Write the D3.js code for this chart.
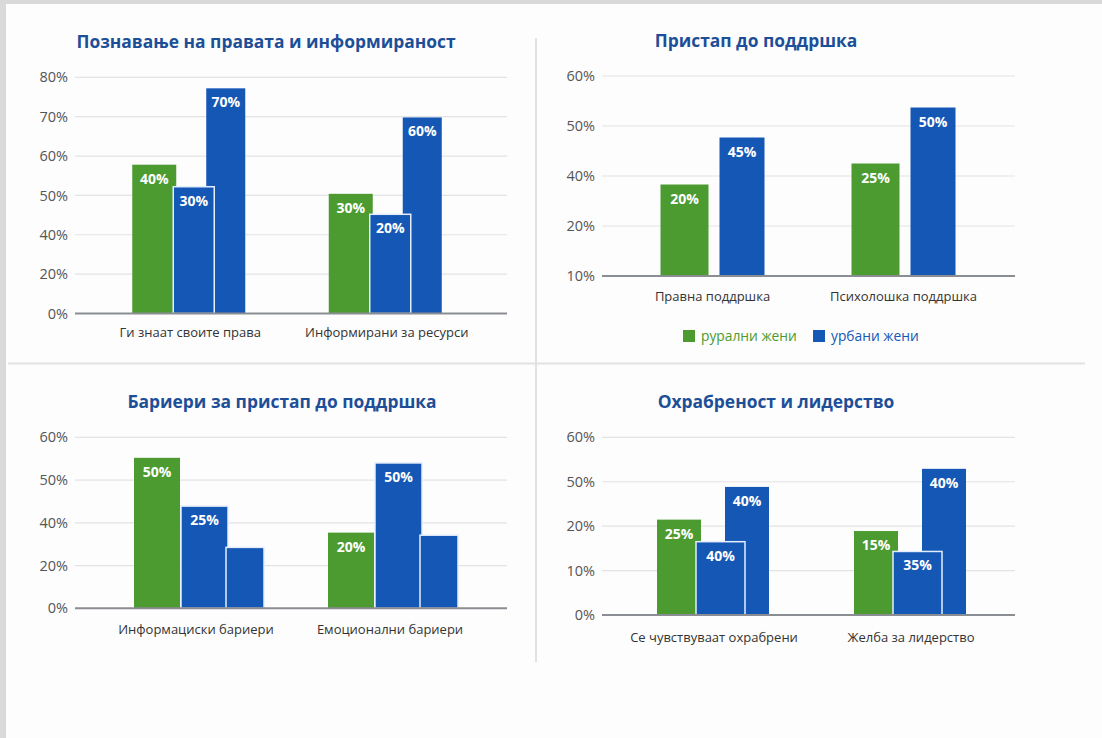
<!DOCTYPE html>
<html><head><meta charset="utf-8">
<script src="https://cdn.jsdelivr.net/npm/d3@7"></script>
<style>html,body{margin:0;padding:0;background:#fff;}svg{display:block;}</style>
</head><body>
<script>
// ---------- DATA ----------
const legendLabels = ["рурални жени", "урбани жени"];

const p1Title = "Познавање на правата и информираност";
const p1Categories = ["Ги знаат своите права", "Информирани за ресурси"];
const p1Ticks = [0, 20, 40, 50, 60, 70, 80];
const p1Rural = [57.8, 50.4];
const p1UrbanMid = [52.2, 45.2];
const p1UrbanTall = [77.2, 69.8];
const p1RuralLabels = ["40%", "30%"];
const p1UrbanMidLabels = ["30%", "20%"];
const p1UrbanTallLabels = ["70%", "60%"];

const p2Title = "Пристап до поддршка";
const p2Categories = ["Правна поддршка", "Психолошка поддршка"];
const p2Ticks = [10, 20, 40, 50, 60];
const p2Rural = [36.6, 42.5];
const p2Urban = [47.7, 53.7];
const p2RuralLabels = ["20%", "25%"];
const p2UrbanLabels = ["45%", "50%"];

const p3Title = "Бариери за пристап до поддршка";
const p3Categories = ["Информациски бариери", "Емоционални бариери"];
const p3Ticks = [0, 20, 40, 50, 60];
const p3Rural = [55.2, 35.4];
const p3UrbanMid = [43.9, 54.0];
const p3UrbanThird = [28.5, 34.2];
const p3RuralLabels = ["50%", "20%"];
const p3UrbanMidLabels = ["25%", "50%"];
const p3UrbanThirdLabels = ["", ""];

const p4Title = "Охрабреност и лидерство";
const p4Categories = ["Се чувствуваат охрабрени", "Желба за лидерство"];
const p4Ticks = [0, 10, 20, 50, 60];
const p4Rural = [24.4, 18.9];
const p4UrbanMid = [16.5, 14.3];
const p4UrbanTall = [46.5, 52.9];
const p4RuralLabels = ["25%", "15%"];
const p4UrbanMidLabels = ["40%", "35%"];
const p4UrbanTallLabels = ["40%", "40%"];

// ---------- STYLE ----------
const GREEN = "#4b9b30", BLUE = "#1557b5", TITLE = "#1d4f98";
const FONT = "'Open Sans', 'Noto Sans', sans-serif";

const W = 1102, H = 738;
const svg = d3.select("body").append("svg").attr("width", W).attr("height", H)
  .style("font-family", FONT);

svg.append("rect").attr("width", W).attr("height", H).attr("fill", "#d9d9d9");
svg.append("rect").attr("x", 6).attr("y", 4).attr("width", W - 6).attr("height", H - 4).attr("fill", "#fdfdfd");

// dividers
svg.append("line").attr("x1", 536).attr("x2", 536).attr("y1", 38).attr("y2", 662)
  .attr("stroke", "#e2e2e4").attr("stroke-width", 2);
svg.append("line").attr("x1", 8).attr("x2", 1085).attr("y1", 363.5).attr("y2", 363.5)
  .attr("stroke", "#e2e2e4").attr("stroke-width", 2);

function panel(cfg) {
  const g = svg.append("g");
  const y = d3.scaleLinear().domain(cfg.ticks)
    .range(cfg.ticks.map((d, i) => cfg.y0 - i * (cfg.y0 - cfg.yTop) / (cfg.ticks.length - 1)));
  const x = d3.scaleBand().domain(cfg.categories).range(cfg.bandRange).padding(0);

  // gridlines
  g.selectAll(".grid").data(cfg.ticks.slice(1)).join("line")
    .attr("x1", cfg.x0).attr("x2", cfg.x1)
    .attr("y1", d => y(d)).attr("y2", d => y(d))
    .attr("stroke", "#e3e3e6").attr("stroke-width", 1.2);

  // y axis labels
  const yAxis = d3.axisLeft(y).tickValues(cfg.ticks).tickFormat(d => d + "%").tickSize(0).tickPadding(0);
  const ya = g.append("g").attr("transform", `translate(${cfg.x0 - 7},0)`).call(yAxis);
  ya.select(".domain").remove();
  ya.selectAll("text").attr("font-family", FONT).attr("font-size", 14.5).attr("fill", "#555");

  // bars
  cfg.series.forEach(s => {
    const bx = (c) => x(c) + x.bandwidth() / 2 + s.off[0];
    const bw = s.off[1] - s.off[0];
    g.selectAll(null).data(cfg.categories).join("rect")
      .attr("x", (c) => bx(c))
      .attr("y", (c, i) => y(s.values[i]))
      .attr("width", bw)
      .attr("height", (c, i) => y(cfg.ticks[0]) - y(s.values[i]))
      .attr("fill", s.color)
      .attr("stroke", s.stroke ? "#e4eefa" : "none")
      .attr("stroke-width", s.stroke ? 1.5 : 0);
    g.selectAll(null).data(cfg.categories).join("text")
      .attr("x", (c) => bx(c) + bw / 2)
      .attr("y", (c, i) => y(s.values[i]) + 19)
      .attr("text-anchor", "middle")
      .attr("font-size", 14).attr("font-weight", "bold").attr("fill", "#fff")
      .text((c, i) => s.labels[i]);
  });

  // baseline axis
  g.append("line").attr("x1", cfg.x0).attr("x2", cfg.x1)
    .attr("y1", y(cfg.ticks[0])).attr("y2", y(cfg.ticks[0]))
    .attr("stroke", "#8a8d92").attr("stroke-width", 2);

  // category labels
  const xAxis = d3.axisBottom(x).tickSize(0).tickPadding(0);
  const xa = g.append("g").attr("transform", `translate(0,${cfg.catY})`).call(xAxis);
  xa.select(".domain").remove();
  xa.selectAll("text").attr("font-family", FONT).attr("font-size", 13).attr("fill", "#333").attr("dy", 0);

  // title
  g.append("text").attr("x", cfg.titleX).attr("y", cfg.titleY).attr("text-anchor", "middle")
    .attr("font-size", 17.4).attr("font-weight", "bold").attr("fill", TITLE).text(cfg.title);
}

panel({
  title: p1Title, titleX: 266, titleY: 48,
  categories: p1Categories, ticks: p1Ticks,
  x0: 75, x1: 507, y0: 313.5, yTop: 77.3, bandRange: [92, 485], catY: 337,
  series: [
    { values: p1Rural, labels: p1RuralLabels, color: GREEN, off: [-58, -14] },
    { values: p1UrbanTall, labels: p1UrbanTallLabels, color: BLUE, off: [16, 55] },
    { values: p1UrbanMid, labels: p1UrbanMidLabels, color: BLUE, off: [-17, 24], stroke: true }
  ]
});

panel({
  title: p2Title, titleX: 756, titleY: 47,
  categories: p2Categories, ticks: p2Ticks,
  x0: 602, x1: 1015, y0: 276, yTop: 76, bandRange: [617, 999], catY: 301,
  series: [
    { values: p2Rural, labels: p2RuralLabels, color: GREEN, off: [-52, -4] },
    { values: p2Urban, labels: p2UrbanLabels, color: BLUE, off: [7, 52] }
  ]
});

panel({
  title: p3Title, titleX: 282, titleY: 408,
  categories: p3Categories, ticks: p3Ticks,
  x0: 75, x1: 507, y0: 608.3, yTop: 437.3, bandRange: [99, 487], catY: 634,
  series: [
    { values: p3Rural, labels: p3RuralLabels, color: GREEN, off: [-62, -16] },
    { values: p3UrbanMid, labels: p3UrbanMidLabels, color: BLUE, off: [-15, 32], stroke: true },
    { values: p3UrbanThird, labels: p3UrbanThirdLabels, color: BLUE, off: [30, 68], stroke: true }
  ]
});

panel({
  title: p4Title, titleX: 776, titleY: 408,
  categories: p4Categories, ticks: p4Ticks,
  x0: 602, x1: 1015, y0: 615, yTop: 437.3, bandRange: [615.5, 1009.5], catY: 642,
  series: [
    { values: p4Rural, labels: p4RuralLabels, color: GREEN, off: [-57, -13] },
    { values: p4UrbanTall, labels: p4UrbanTallLabels, color: BLUE, off: [11, 55] },
    { values: p4UrbanMid, labels: p4UrbanMidLabels, color: BLUE, off: [-18, 31], stroke: true }
  ]
});

// legend
const legend = svg.append("g");
const legX = [683, 813], legC = [GREEN, BLUE];
legendLabels.forEach((t, i) => {
  legend.append("rect").attr("x", legX[i]).attr("y", 330).attr("width", 12).attr("height", 12).attr("fill", legC[i]);
  legend.append("text").attr("x", legX[i] + 18).attr("y", 341).attr("font-size", 13.8)
    .attr("fill", legC[i]).text(t);
});
</script>
</body></html>
